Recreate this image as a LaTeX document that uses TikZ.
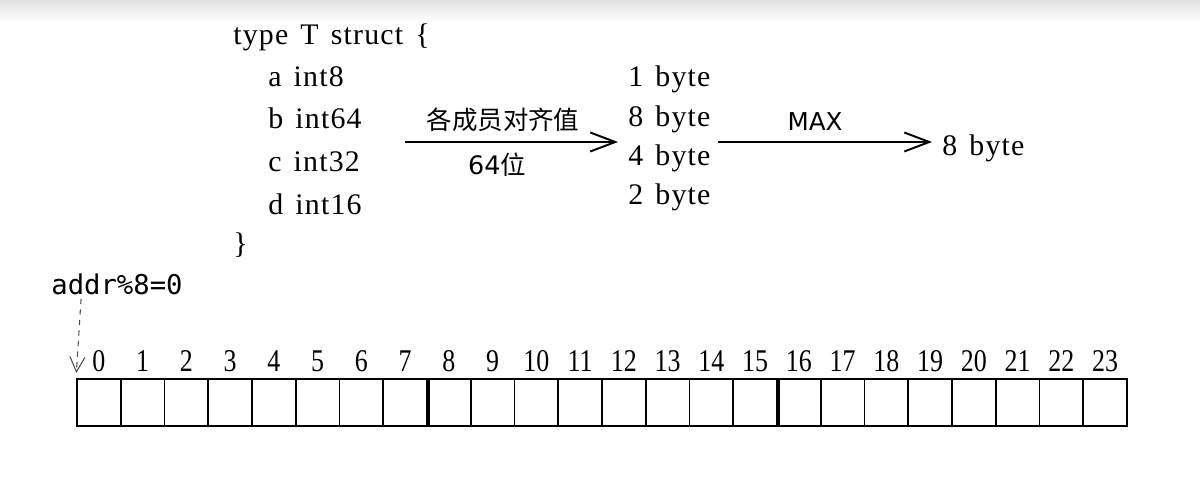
\documentclass[tikz,border=0pt]{standalone}
\usepackage{fontspec}
\setmainfont{Liberation Serif}[LetterSpace=4, WordSpace=1.4]
\newfontfamily\numfont{Liberation Serif}[FakeStretch=0.82]
\newfontfamily\cjkfont{Noto Sans CJK SC}
\newfontfamily\handfont{DejaVu Sans}
\newfontfamily\handmono{DejaVu Sans Mono}
\usetikzlibrary{arrows.meta, positioning}

\begin{document}
\begin{tikzpicture}[x=0.02cm, y=-0.02cm, >={Straight Barb[length=0.5cm, width=0.38cm]}]
        \tikzstyle{code} = [anchor=base west, inner sep=0pt, font=\fontsize{17}{20}\selectfont]
        \tikzstyle{cell} = [rectangle, draw, line width=1.1pt, minimum width=0.875cm, minimum height=0.94cm, inner sep=0pt]
        \tikzstyle{idx} = [inner sep=0pt, font=\numfont\fontsize{18}{20}\selectfont]
        \tikzstyle{cn} = [inner sep=0pt, font=\cjkfont\fontsize{14.5}{16}\selectfont]
        \tikzstyle{hand} = [inner sep=0pt, font=\handfont\fontsize{14}{16}\selectfont]
        \tikzstyle{arr} = [->, line width=1.1pt]

        \useasboundingbox (0,0) rectangle (1200,483);
        \shade[top color=black!12, bottom color=white] (0,0) rectangle (1200,22);

        % struct definition
        \node [code] (head) at (233,45) {type T struct \{};
        \node [code] (fa) at (268,87) {a int8};
        \node [code] (fb) at (268,129) {b int64};
        \node [code] (fc) at (268,172) {c int32};
        \node [code] (fd) at (268,214) {d int16};
        \node [code] (close) at (233,253) {\}};

        % alignment of each member
        \node [code] (s1) at (628,87) {1 byte};
        \node [code] (s2) at (628,127) {8 byte};
        \node [code] (s3) at (628,165) {4 byte};
        \node [code] (s4) at (628,204) {2 byte};
        \node [code] (res) at (942,155) {8 byte};

        \coordinate (a1) at (405,142);
        \coordinate (a2) at (718,142);
        \path [draw, arr, shorten >=0.2cm] (a1) -- (a1 -| s3.west);
        \path [draw, arr, shorten >=0.2cm] (a2) -- (a2 -| res.west);
        \node [cn] (lab1) at (503,120) {各成员对齐值};
        \node [cn] (lab2) at (497,165) {{\handfont 64}位};
        \node [hand] (lab3) at (815,122) {MAX};

        % memory cells
        \foreach \i in {0,...,23} {
            \node [cell] (c\i) at ({98.875+43.75*\i}, 402.5) {};
            \node [idx, above=0.12cm of c\i] (n\i) {\i};
        }
        \path [draw, line width=1.8pt] (c7.north east) -- (c7.south east);
        \path [draw, line width=1.8pt] (c15.north east) -- (c15.south east);

        \node [inner sep=0pt, font=\handmono\fontsize{15.5}{18}\selectfont] (addr) at (117,284) {addr\%8=0};
        \path [draw, ->, dashed, black!70, line width=0.6pt, >={Straight Barb[length=0.3cm, width=0.3cm]}, shorten >=0.1cm] ([xshift=0.6cm, yshift=-0.08cm]addr.south west) -- (c0.north west);
    \end{tikzpicture}
\end{document}
